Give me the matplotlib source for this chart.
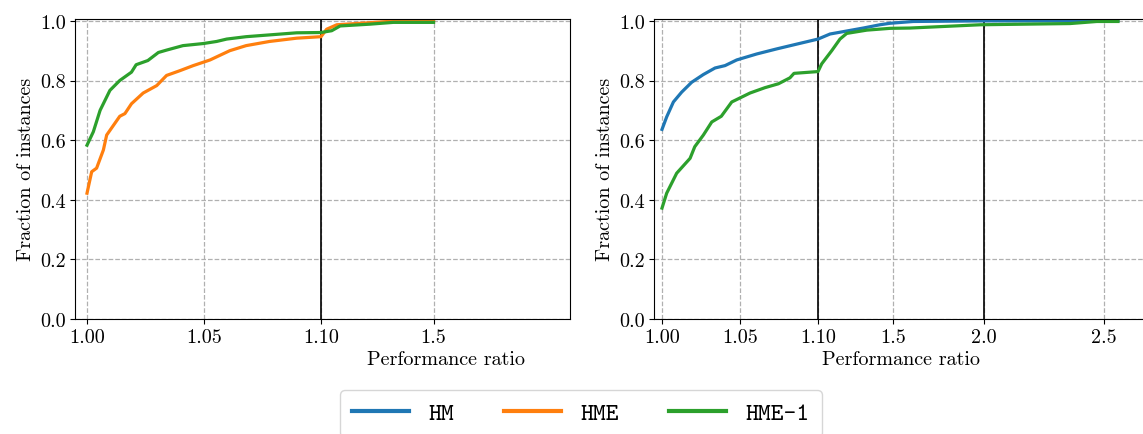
import numpy as np
import matplotlib
matplotlib.use("Agg")
import matplotlib.pyplot as plt
from matplotlib.lines import Line2D

plt.rcParams['font.family'] = 'serif'
plt.rcParams['font.serif'] = ['cmr10', 'DejaVu Serif']
plt.rcParams['axes.formatter.use_mathtext'] = True
plt.rcParams['font.size'] = 14.5

# data (performance ratio, fraction of instances)
left_hme_r = [1.000, 1.002, 1.0041, 1.007, 1.0084, 1.014, 1.0162, 1.019, 1.024, 1.0298, 1.034,
              1.0397, 1.0454, 1.0526, 1.061, 1.068, 1.078, 1.0896, 1.100, 1.12, 1.156, 1.274, 1.37, 1.5]
left_hme_f = [0.422, 0.494, 0.506, 0.567, 0.617, 0.68, 0.689, 0.722, 0.758, 0.783, 0.817,
              0.833, 0.85, 0.869, 0.90, 0.917, 0.931, 0.942, 0.947, 0.972, 0.987, 0.994, 1.0, 1.0]

left_hme1_r = [1.0, 1.0027, 1.0056, 1.0098, 1.014, 1.019, 1.021, 1.026, 1.0305, 1.034, 1.041,
               1.0497, 1.0554, 1.0597, 1.068, 1.078, 1.0896, 1.1, 1.138, 1.168, 1.274, 1.357, 1.5]
left_hme1_f = [0.583, 0.628, 0.70, 0.767, 0.80, 0.828, 0.853, 0.867, 0.894, 0.902, 0.917,
               0.924, 0.931, 0.939, 0.947, 0.953, 0.96, 0.961, 0.967, 0.983, 0.989, 0.995, 0.995]

right_hm_r = [1.0, 1.003, 1.0073, 1.0126, 1.019, 1.0265, 1.034, 1.0404, 1.0479, 1.0607, 1.0735,
              1.0863, 1.1, 1.164, 1.235, 1.341, 1.43, 1.484, 1.611, 1.98, 2.558]
right_hm_f = [0.636, 0.678, 0.728, 0.761, 0.794, 0.82, 0.842, 0.85, 0.869, 0.889, 0.906,
              0.922, 0.939, 0.956, 0.964, 0.976, 0.987, 0.992, 0.998, 1.0, 1.0]

right_hme1_r = [1.0, 1.003, 1.0094, 1.018, 1.021, 1.0265, 1.0319, 1.038, 1.0447, 1.0564, 1.066,
                1.0746, 1.082, 1.0846, 1.1, 1.1197, 1.173, 1.217, 1.253, 1.36, 1.484, 1.593,
                1.98, 2.358, 2.47, 2.558]
right_hme1_f = [0.372, 0.422, 0.489, 0.539, 0.578, 0.617, 0.661, 0.68, 0.728, 0.758, 0.776,
                0.789, 0.809, 0.824, 0.83, 0.856, 0.90, 0.939, 0.958, 0.969, 0.975, 0.976,
                0.987, 0.991, 0.998, 0.998]

left_ticks = [1.00, 1.05, 1.10, 1.5]
left_ticklabels = ['1.00', '1.05', '1.10', '1.5']
right_ticks = [1.00, 1.05, 1.10, 1.5, 2.0, 2.5]
right_ticklabels = ['1.00', '1.05', '1.10', '1.5', '2.0', '2.5']
y_ticks = [0.0, 0.2, 0.4, 0.6, 0.8, 1.0]

# piecewise axis: 1.0-1.1 stretched, coarser above
KNOT_R = np.array([0.9, 1.0, 1.1, 1.5, 2.0, 2.5, 3.5])
KNOT_T = np.array([-1.0, 0.0, 1.0, 1.481, 2.064, 2.833, 4.371])


def fwd(x):
    return np.interp(x, KNOT_R, KNOT_T)


def inv(t):
    return np.interp(t, KNOT_T, KNOT_R)


C_HM, C_HME, C_HME1 = '#1f77b4', '#ff7f0e', '#2ca02c'

fig = plt.figure(figsize=(11.43, 4.35), dpi=100)
ax1 = fig.add_axes([75 / 1143, 1 - 320 / 435, 495 / 1143, 300.5 / 435])
ax2 = fig.add_axes([654 / 1143, 1 - 320 / 435, 510 / 1143, 300.5 / 435])

for ax, xmax, ticks, labels, vlines, xlab_x in [
        (ax1, 2.0, left_ticks, left_ticklabels, [1.1], 0.75),
        (ax2, 2.75, right_ticks, right_ticklabels, [1.1, 2.0], 0.484)]:
    ax.set_xscale('function', functions=(fwd, inv))
    ax.set_xlim(0.99487, xmax)
    ax.set_ylim(0, 1.008)
    ax.set_xticks(ticks)
    ax.set_xticklabels(labels)
    ax.set_xticks([], minor=True)
    ax.set_yticks(y_ticks)
    ax.set_yticklabels(['%.1f' % v for v in y_ticks])
    ax.grid(True, linestyle='--', color='#b0b0b0', linewidth=0.9)
    ax.set_axisbelow(True)
    for v in vlines:
        ax.axvline(v, color='black', linewidth=1.2, zorder=1.5)
    ax.set_xlabel('Performance ratio')
    ax.xaxis.set_label_coords(xlab_x, -0.103)
    ax.set_ylabel('Fraction of instances')
    ax.tick_params(labelsize=14.5, pad=3)

ax1.plot(left_hme_r, left_hme_f, color=C_HME, lw=2.3)
ax1.plot(left_hme1_r, left_hme1_f, color=C_HME1, lw=2.3)
ax2.plot(right_hm_r, right_hm_f, color=C_HM, lw=2.3)
ax2.plot(right_hme1_r, right_hme1_f, color=C_HME1, lw=2.3)

handles = [Line2D([], [], color=c, lw=3) for c in (C_HM, C_HME, C_HME1)]
fig.legend(handles, ['HM', 'HME', 'HME-1'], loc='upper center', ncol=3,
           bbox_to_anchor=(581 / 1143, 1 - 391 / 435), borderaxespad=0,
           handlelength=2.35, columnspacing=2.05, handletextpad=0.8, borderpad=0.5,
           prop={'family': 'cmtt10', 'size': 17.5}, edgecolor='#cccccc')

fig.savefig('out.png', dpi=100)
